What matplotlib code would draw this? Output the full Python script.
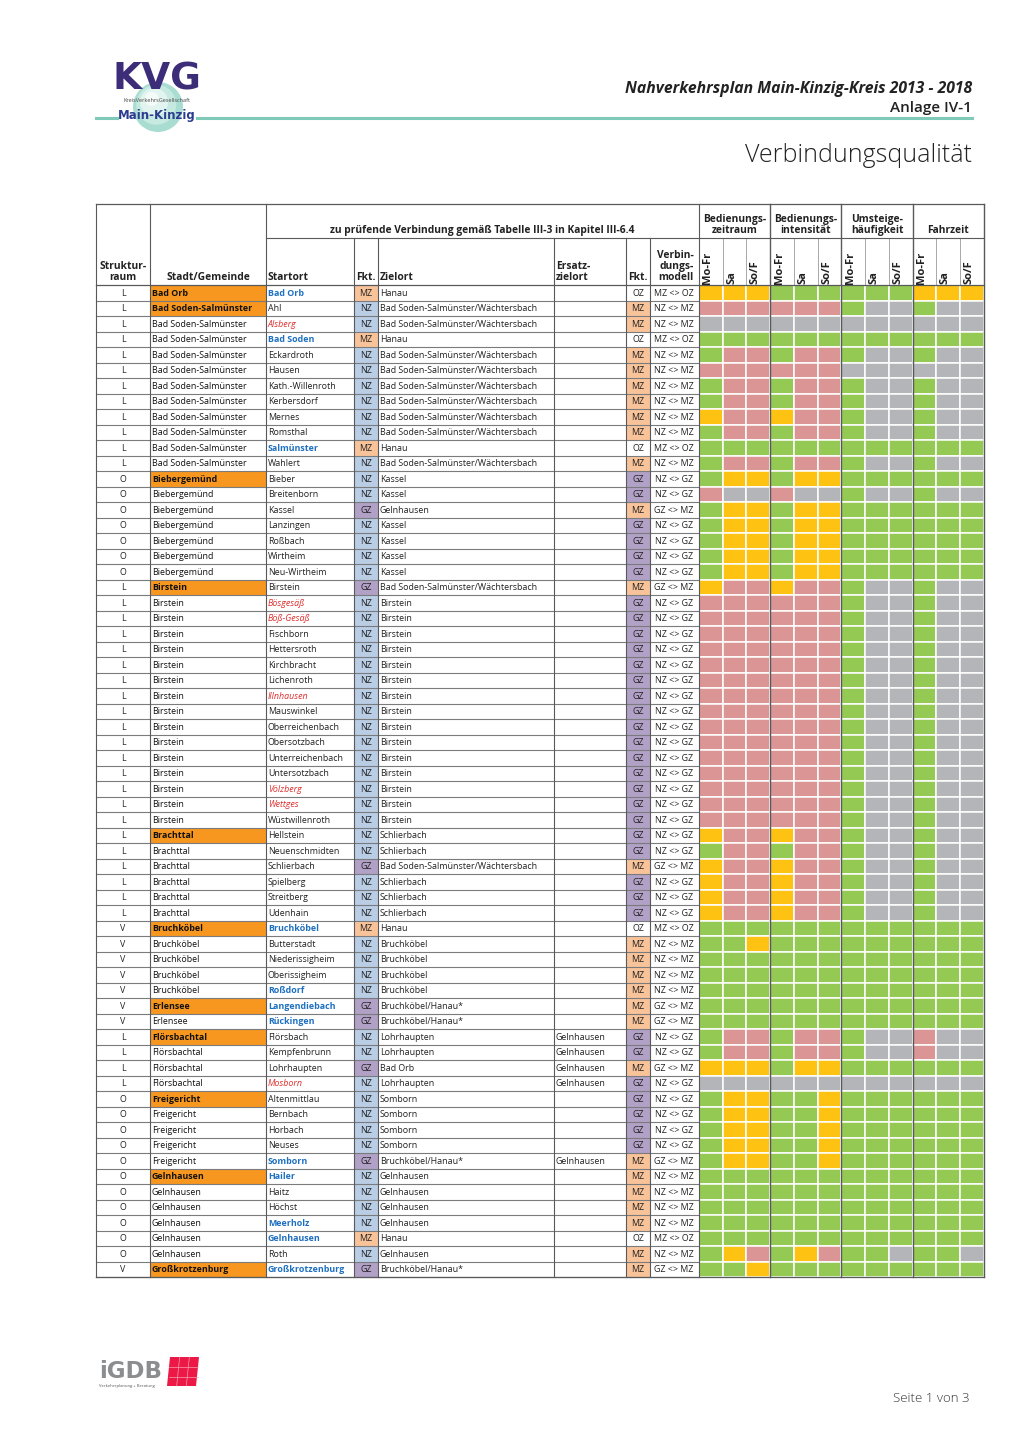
import matplotlib.pyplot as plt
from matplotlib.patches import Rectangle, Circle, Polygon

plt.rcParams['font.family'] = ['Open Sans', 'DejaVu Sans']

struktur = ['L'] * 12 + ['O'] * 7 + ['L'] * 22 + ['V'] * 7 + ['L'] * 4 + ['O'] * 11 + ['V']

stadt = (['Bad Orb'] + ['Bad Soden-Salmünster'] * 11 + ['Biebergemünd'] * 7
         + ['Birstein'] * 16 + ['Brachttal'] * 6 + ['Bruchköbel'] * 5
         + ['Erlensee'] * 2 + ['Flörsbachtal'] * 4 + ['Freigericht'] * 5
         + ['Gelnhausen'] * 6 + ['Großkrotzenburg'])

startort = ['Bad Orb', 'Ahl', 'Alsberg', 'Bad Soden', 'Eckardroth', 'Hausen',
            'Kath.-Willenroth', 'Kerbersdorf', 'Mernes', 'Romsthal', 'Salmünster',
            'Wahlert', 'Bieber', 'Breitenborn', 'Kassel', 'Lanzingen', 'Roßbach',
            'Wirtheim', 'Neu-Wirtheim', 'Birstein', 'Bösgesäß', 'Böß-Gesäß',
            'Fischborn', 'Hettersroth', 'Kirchbracht', 'Lichenroth', 'Illnhausen',
            'Mauswinkel', 'Oberreichenbach', 'Obersotzbach', 'Unterreichenbach',
            'Untersotzbach', 'Völzberg', 'Wettges', 'Wüstwillenroth', 'Hellstein',
            'Neuenschmidten', 'Schlierbach', 'Spielberg', 'Streitberg', 'Udenhain',
            'Bruchköbel', 'Butterstadt', 'Niederissigheim', 'Oberissigheim',
            'Roßdorf', 'Langendiebach', 'Rückingen', 'Flörsbach', 'Kempfenbrunn',
            'Lohrhaupten', 'Mosborn', 'Altenmittlau', 'Bernbach', 'Horbach',
            'Neuses', 'Somborn', 'Hailer', 'Haitz', 'Höchst', 'Meerholz',
            'Gelnhausen', 'Roth', 'Großkrotzenburg']

# '' normal, 'b' blue bold, 'r' red italic
start_style = (['b', '', 'r', 'b'] + [''] * 6 + ['b', ''] + [''] * 7
               + ['', 'r', 'r', '', '', '', '', 'r', '', '', '', '', '', 'r', 'r', '']
               + [''] * 6 + ['b', '', '', '', 'b', 'b', 'b']
               + ['', '', '', 'r'] + ['', '', '', '', 'b']
               + ['b', '', '', 'b', 'b', '', 'b'])

bss = 'Bad Soden-Salmünster/Wächtersbach'
bh = 'Bruchköbel/Hanau*'
zielort = (['Hanau', bss, bss, 'Hanau'] + [bss] * 6 + ['Hanau', bss]
           + ['Kassel', 'Kassel', 'Gelnhausen'] + ['Kassel'] * 4
           + [bss] + ['Birstein'] * 15
           + ['Schlierbach', 'Schlierbach', bss, 'Schlierbach', 'Schlierbach', 'Schlierbach']
           + ['Hanau'] + ['Bruchköbel'] * 4 + [bh, bh]
           + ['Lohrhaupten', 'Lohrhaupten', 'Bad Orb', 'Lohrhaupten']
           + ['Somborn'] * 4 + [bh]
           + ['Gelnhausen'] * 4 + ['Hanau', 'Gelnhausen', bh])

ersatz = [''] * 48 + ['Gelnhausen'] * 4 + [''] * 4 + ['Gelnhausen'] + [''] * 7

fkt_start = (['MZ', 'NZ', 'NZ', 'MZ'] + ['NZ'] * 6 + ['MZ', 'NZ']
             + ['NZ', 'NZ', 'GZ', 'NZ', 'NZ', 'NZ', 'NZ']
             + ['GZ'] + ['NZ'] * 15
             + ['NZ', 'NZ', 'GZ', 'NZ', 'NZ', 'NZ']
             + ['MZ', 'NZ', 'NZ', 'NZ', 'NZ', 'GZ', 'GZ']
             + ['NZ', 'NZ', 'GZ', 'NZ'] + ['NZ'] * 4 + ['GZ']
             + ['NZ'] * 4 + ['MZ', 'NZ', 'GZ'])

fkt_ziel = (['OZ', 'MZ', 'MZ', 'OZ'] + ['MZ'] * 6 + ['OZ', 'MZ']
            + ['GZ', 'GZ', 'MZ', 'GZ', 'GZ', 'GZ', 'GZ']
            + ['MZ'] + ['GZ'] * 15
            + ['GZ', 'GZ', 'MZ', 'GZ', 'GZ', 'GZ']
            + ['OZ', 'MZ', 'MZ', 'MZ', 'MZ', 'MZ', 'MZ']
            + ['GZ', 'GZ', 'MZ', 'GZ'] + ['GZ'] * 4 + ['MZ']
            + ['MZ'] * 4 + ['OZ', 'MZ', 'MZ'])

# quality per row: Bedienungszeitraum, -intensität, Umsteigehäufigkeit, Fahrzeit x (Mo-Fr, Sa, So/F)
quality = (['YYYGGGGGGYYY', 'RRRRRRGXXGXX', 'XXXXXXXXXXXX', 'GGGGGGGGGGGG',
            'GRRGRRGXXGXX', 'RRRRRRXXXXXX', 'GRRGRRGXXGXX', 'GRRGRRGXXGXX',
            'YRRYRRGXXGXX', 'GRRGRRGXXGXX', 'GGGGGGGGGGGG', 'GRRGRRGXXGXX',
            'GYYGYYGGGGGG', 'RXXRXXGXXGXX'] + ['GYYGYYGGGGGG'] * 5
           + ['YRRYRRGXXGXX'] + ['RRRRRRGXXGXX'] * 15
           + ['YRRYRRGXXGXX', 'GRRGRRGXXGXX'] + ['YRRYRRGXXGXX'] * 4
           + ['GGGGGGGGGGGG', 'GGYGGGGGGGGG'] + ['GGGGGGGGGGGG'] * 5
           + ['GRRGRRGXXRXX'] * 2 + ['YYYGYYGGGGGG', 'XXXXXXXXXXXX']
           + ['GYYGGYGGGGGG'] * 5 + ['GGGGGGGGGGGG'] * 5
           + ['GYRGYRGGXGGX', 'GGYGGGGGGGGG'])

groups = ['Bedienungs-\nzeitraum', 'Bedienungs-\nintensität', 'Umsteige-\nhäufigkeit', 'Fahrzeit']
days = ['Mo-Fr', 'Sa', 'So/F']

# ---- styling ----
qcol = {'G': '#94c954', 'Y': '#fdc212', 'R': '#db9595', 'X': '#b4b5b8'}
fcol = {'NZ': '#b9cde5', 'MZ': '#f9c39a', 'GZ': '#b2a1c7', 'OZ': 'white'}
line_c = '#58595b'

fig = plt.figure(figsize=(10.2, 14.42), dpi=100)
ax = fig.add_axes([0, 0, 1, 1])
ax.set_xlim(0, 1020)
ax.set_ylim(1442, 0)
ax.axis('off')

x_edges = [96, 150, 266, 354, 378, 554, 626, 650, 699]
cw = (984 - 699) / 12
q_edges = [699 + i * cw for i in range(13)]
top, mid, hbot = 204, 238, 285
rh = 15.5
n = len(startort)
tbot = hbot + n * rh
fs = 6.4

# ---- rows ----
for i in range(n):
    y0 = hbot + i * rh
    yc = y0 + rh / 2 + 0.3
    first = i == 0 or stadt[i] != stadt[i - 1]
    if first:
        ax.add_patch(Rectangle((150, y0), 116, rh, fc='#f7971f', ec='none'))
    ax.add_patch(Rectangle((354, y0), 24, rh, fc=fcol[fkt_start[i]], ec='none'))
    ax.add_patch(Rectangle((626, y0), 24, rh, fc=fcol[fkt_ziel[i]], ec='none'))
    for j, c in enumerate(quality[i]):
        ax.add_patch(Rectangle((q_edges[j], y0), cw, rh, fc=qcol[c], ec='white', lw=1.1))

    ax.text(123, yc, struktur[i], ha='center', va='center', fontsize=fs, color='#222')
    ax.text(152, yc, stadt[i], ha='left', va='center', fontsize=fs,
            color='#111', fontweight='bold' if first else 'normal')
    st = start_style[i]
    ax.text(268, yc, startort[i], ha='left', va='center', fontsize=fs,
            color={'': '#222', 'b': '#1d6fc0', 'r': '#e0302f'}[st],
            fontweight='bold' if st == 'b' else 'normal',
            fontstyle='italic' if st == 'r' else 'normal')
    ax.text(366, yc, fkt_start[i], ha='center', va='center', fontsize=fs, color='#222')
    ax.text(380, yc, zielort[i], ha='left', va='center', fontsize=fs, color='#222')
    ax.text(556, yc, ersatz[i], ha='left', va='center', fontsize=fs, color='#222')
    ax.text(638, yc, fkt_ziel[i], ha='center', va='center', fontsize=fs, color='#222')
    ax.text(674, yc, f'{fkt_start[i]} <> {fkt_ziel[i]}', ha='center', va='center',
            fontsize=fs, color='#222')
    ax.plot([96, 699], [y0 + rh, y0 + rh], color='#7a7b7d', lw=0.8)

# ---- grid lines ----
for x in x_edges:
    y_start = mid if x in (354, 378, 554, 626, 650) else top
    ax.plot([x, x], [y_start, tbot], color=line_c, lw=0.8)
for g in range(1, 5):
    ax.plot([q_edges[3 * g]] * 2, [top, tbot], color=line_c, lw=1.0)
for j in range(12):
    if j % 3:
        ax.plot([q_edges[j]] * 2, [mid, hbot], color='#9a9a9a', lw=0.6)
ax.plot([96, 984], [top, top], color=line_c, lw=0.9)
ax.plot([266, 984], [mid, mid], color=line_c, lw=0.8)
ax.plot([96, 984], [hbot, hbot], color=line_c, lw=0.9)
ax.plot([96, 984], [tbot, tbot], color=line_c, lw=0.9)

# ---- header text ----
hfs = 7.4
hb = dict(fontsize=hfs, fontweight='bold', color='#222', linespacing=1.0)
ax.text(123, 283, 'Struktur-\nraum', ha='center', va='bottom', **hb)
ax.text(208, 283, 'Stadt/Gemeinde', ha='center', va='bottom', **hb)
ax.text(268, 283, 'Startort', ha='left', va='bottom', **hb)
ax.text(366, 283, 'Fkt.', ha='center', va='bottom', **hb)
ax.text(380, 283, 'Zielort', ha='left', va='bottom', **hb)
ax.text(556, 283, 'Ersatz-\nzielort', ha='left', va='bottom', **hb)
ax.text(638, 283, 'Fkt.', ha='center', va='bottom', **hb)
ax.text(694, 283, 'Verbin-\ndungs-\nmodell', ha='right', va='bottom', multialignment='right', **hb)
ax.text(482, 236, 'zu prüfende Verbindung gemäß Tabelle III-3 in Kapitel III-6.4',
        ha='center', va='bottom', **hb)
for g, label in enumerate(groups):
    xc = (q_edges[3 * g] + q_edges[3 * g + 3]) / 2
    ax.text(xc, 236, label, ha='center', va='bottom', **hb)
    for d in range(3):
        xd = q_edges[3 * g + d] + cw / 2 - 3
        ax.text(xd, 284, days[d], ha='center', va='bottom', rotation=90,
                fontsize=8, fontweight='bold', color='#222')

# ---- page header ----
ax.text(972, 89, 'Nahverkehrsplan Main-Kinzig-Kreis 2013 - 2018', ha='right', va='center',
        fontsize=11.3, fontweight='bold', fontstyle='italic', color='#222')
ax.text(972, 108, 'Anlage IV-1', ha='right', va='center', fontsize=11,
        fontweight='semibold', color='#222')
ax.text(972, 156, 'Verbindungsqualität', ha='right', va='center', fontsize=18,
        fontweight='light', color='#222')

# logo KVG
for r, c in [(25, '#a9ddd1'), (20, '#c6e9e0'), (14, '#e2f4ef'), (7, '#f5fbf9')]:
    ax.add_patch(Circle((158 - (25 - r) * 0.35, 107 - (25 - r) * 0.45), r, fc=c, ec='none'))
ax.plot([96, 117], [118, 118], color='#7fcab8', lw=2.2)
ax.plot([197, 972], [118, 118], color='#7fcab8', lw=2.2)
ax.text(157, 80, 'KVG', ha='center', va='center', fontsize=27, fontweight='heavy',
        color='#3d2c78', family='DejaVu Sans')
ax.text(157, 101, 'KreisVerkehrsGesellschaft', ha='center', va='center', fontsize=4,
        color='#444')
ax.text(157, 116, 'Main-Kinzig', ha='center', va='center', fontsize=8.5,
        fontweight='bold', color='#2c3d8f', family='DejaVu Sans')

# footer logo iGDB
ax.text(99, 1371, 'iGDB', ha='left', va='center', fontsize=16.5, fontweight='bold',
        color='#8b8d8f', family='DejaVu Sans')
ax.add_patch(Polygon([(170, 1357), (199, 1357), (196, 1386), (167, 1386)],
                     closed=True, fc='#ec1846', ec='none'))
for k in range(1, 3):
    xa = 170 + k * 29 / 3
    ax.plot([xa, xa - 3], [1357, 1386], color='#f7a0b0', lw=0.5)
for yy in [1367, 1377]:
    ax.plot([169, 198], [yy, yy], color='#f7a0b0', lw=0.5)
ax.text(99, 1386, 'Verkehrsplanung + Beratung', ha='left', va='center', fontsize=3,
        color='#555')

ax.text(970, 1399, 'Seite 1 von 3', ha='right', va='center', fontsize=9.5,
        fontweight='light', color='#333')

fig.savefig('out.png', dpi=100)
